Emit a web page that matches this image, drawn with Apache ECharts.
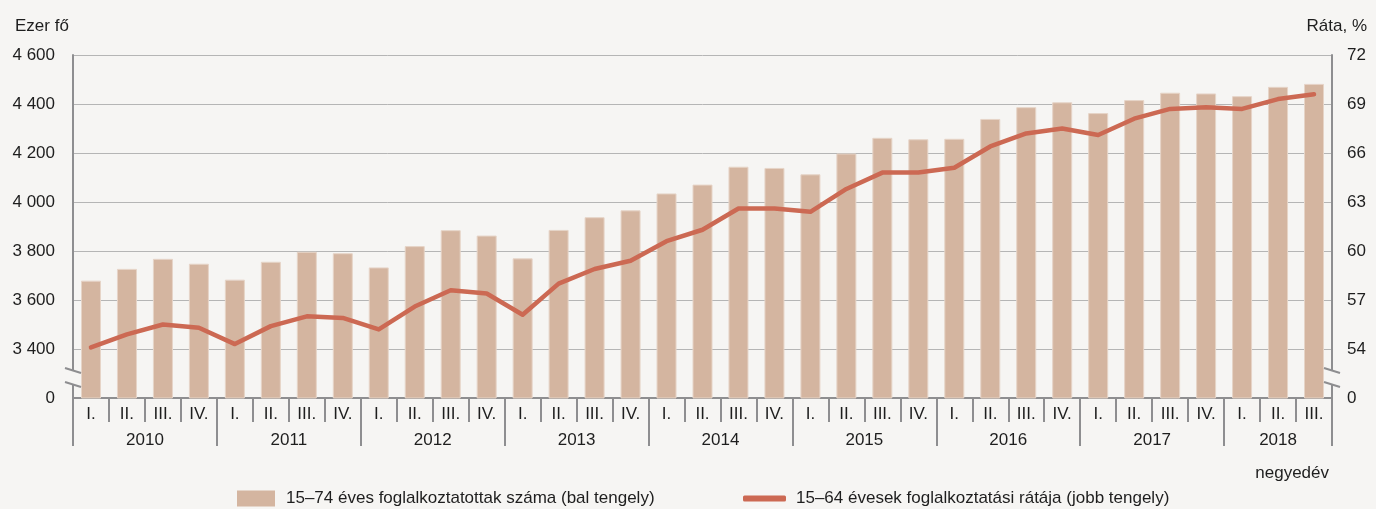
<!DOCTYPE html>
<html>
<head>
<meta charset="utf-8">
<script src="https://cdn.jsdelivr.net/npm/echarts@6/dist/echarts.min.js"></script>
<style>
  html, body { margin: 0; padding: 0; background: #f6f5f3; }
</style>
</head>
<body>
<div id="main" style="width: 1376px; height: 509px"></div>
<script>
var years = ["2010", "2011", "2012", "2013", "2014", "2015", "2016", "2017", "2018"];
var quartersPerYear = [4, 4, 4, 4, 4, 4, 4, 4, 3];
var quarterNames = ["I.", "II.", "III.", "IV."];

// 15–74 éves foglalkoztatottak száma, ezer fő (bal tengely)
var employed = [
  3679, 3727, 3768, 3748,
  3683, 3756, 3797, 3791,
  3733, 3820, 3885, 3863,
  3770, 3886, 3938, 3966,
  4035, 4071, 4144, 4139,
  4113, 4198, 4262, 4256,
  4258, 4339, 4387, 4407,
  4363, 4416, 4446, 4443,
  4432, 4470, 4482
];
// 15–64 évesek foglalkoztatási rátája, % (jobb tengely)
var rate = [
  54.1, 54.9, 55.5, 55.3,
  54.3, 55.4, 56.0, 55.9,
  55.2, 56.6, 57.6, 57.4,
  56.1, 58.0, 58.9, 59.4,
  60.6, 61.3, 62.6, 62.6,
  62.4, 63.8, 64.8, 64.8,
  65.1, 66.4, 67.2, 67.5,
  67.1, 68.1, 68.7, 68.8,
  68.7, 69.3, 69.6
];

var font = '"Liberation Sans", Arial, sans-serif';
var fontSize = 17;
var textColor = "#1e1e1e";
var axisGrey = "#8e8e90";
var bg = "#f6f5f3";

// quarter categories and a half-step year axis (boundaries + centres)
var quarters = [];
var yearAxis = [];
var yearTicks = {};
var pos = 0;
years.forEach(function (y, i) {
  var n = quartersPerYear[i];
  for (var q = 0; q < n; q++) quarters.push(quarterNames[q]);
  yearTicks[2 * pos] = true;
  pos += n;
});
yearTicks[2 * pos] = true;
for (var k = 0; k <= 2 * pos; k++) yearAxis.push("");
pos = 0;
years.forEach(function (y, i) {
  yearAxis[2 * pos + quartersPerYear[i]] = y;
  pos += quartersPerYear[i];
});

function thousands(v) {
  return String(v).replace(/\B(?=(\d{3})+(?!\d))/g, " ");
}

var myChart = echarts.init(document.getElementById("main"));
var gridL = 73, gridR = 44, gridT = 55, gridB = 111;
var W = 1376;
var xR = W - gridR;

var barName = "15–74 éves foglalkoztatottak száma (bal tengely)";
var lineName = "15–64 évesek foglalkoztatási rátája (jobb tengely)";
var plainText = { fontFamily: font, fontSize: fontSize, fontWeight: "normal", color: textColor };

// axis break: gap in the axis line plus two slanted strokes
function breakMarks(x) {
  return [
    { type: "rect", shape: { x: x - 3, y: 370, width: 6, height: 14 }, style: { fill: bg }, z: 100 },
    { type: "line", shape: { x1: x - 8, y1: 368, x2: x + 8, y2: 373 }, style: { stroke: axisGrey, lineWidth: 2 }, z: 101 },
    { type: "line", shape: { x1: x - 8, y1: 382, x2: x + 8, y2: 387 }, style: { stroke: axisGrey, lineWidth: 2 }, z: 101 }
  ];
}

var option = {
  backgroundColor: bg,
  textStyle: { fontFamily: font, color: textColor },
  title: [
    { text: "Ezer fő", left: 10, top: 13, textStyle: plainText },
    { text: "Ráta, %", right: 4, top: 13, textStyle: plainText },
    { text: "negyedév", right: 42, top: 460, textStyle: plainText }
  ],
  legend: [
    {
      left: 232,
      top: 485,
      itemWidth: 38,
      itemHeight: 16,
      itemStyle: { borderWidth: 0 },
      textStyle: { fontFamily: font, fontSize: fontSize, color: textColor, padding: [0, 0, 0, 6] },
      data: [{ name: barName, icon: "rect" }]
    },
    {
      left: 738,
      top: 485,
      itemWidth: 43,
      itemHeight: 6,
      textStyle: { fontFamily: font, fontSize: fontSize, color: textColor, padding: [0, 0, 0, 5] },
      data: [{ name: lineName, icon: "roundRect" }]
    }
  ],
  grid: { left: gridL, right: gridR, top: gridT, bottom: gridB, containLabel: false },
  xAxis: [
    {
      type: "category",
      data: quarters,
      position: "bottom",
      boundaryGap: true,
      axisLine: { lineStyle: { color: axisGrey, width: 2 } },
      axisTick: { show: true, interval: 0, length: 24, lineStyle: { color: axisGrey, width: 2 } },
      axisLabel: { interval: 0, margin: 8, fontSize: fontSize, color: textColor, fontFamily: font }
    },
    {
      type: "category",
      data: yearAxis,
      position: "bottom",
      boundaryGap: false,
      axisLine: { show: false },
      axisTick: {
        show: true,
        interval: function (i) { return !!yearTicks[i]; },
        length: 48,
        lineStyle: { color: axisGrey, width: 2 }
      },
      axisLabel: {
        interval: function (i, v) { return v !== ""; },
        margin: 34,
        fontSize: fontSize,
        color: textColor,
        fontFamily: font
      }
    }
  ],
  yAxis: [
    {
      type: "value",
      min: 3200,
      max: 4600,
      interval: 200,
      position: "left",
      axisLine: { show: true, lineStyle: { color: axisGrey, width: 2 } },
      axisTick: { show: false },
      splitLine: { lineStyle: { color: "#b5b5b5", width: 1 } },
      axisLabel: {
        margin: 18,
        fontSize: fontSize,
        color: textColor,
        fontFamily: font,
        formatter: function (v) { return v === 3200 ? "0" : thousands(v); }
      }
    },
    {
      type: "value",
      min: 51,
      max: 72,
      interval: 3,
      position: "right",
      axisLine: { show: true, lineStyle: { color: axisGrey, width: 2 } },
      axisTick: { show: false },
      splitLine: { show: false },
      axisLabel: {
        margin: 15,
        fontSize: fontSize,
        color: textColor,
        fontFamily: font,
        formatter: function (v) { return v === 51 ? "0" : String(v); }
      }
    }
  ],
  series: [
    {
      name: barName,
      type: "bar",
      xAxisIndex: 0,
      yAxisIndex: 0,
      barWidth: 20,
      itemStyle: { color: "#d4b5a0", borderColor: "#e6d4c7", borderWidth: 1 },
      data: employed
    },
    {
      name: lineName,
      type: "line",
      xAxisIndex: 0,
      yAxisIndex: 1,
      symbol: "none",
      itemStyle: { color: "#cc6953" },
      lineStyle: { color: "#cc6953", width: 4.5, cap: "round", join: "round" },
      data: rate
    }
  ],
  graphic: breakMarks(gridL).concat(breakMarks(xR))
};

option && myChart.setOption(option);
</script>
</body>
</html>
